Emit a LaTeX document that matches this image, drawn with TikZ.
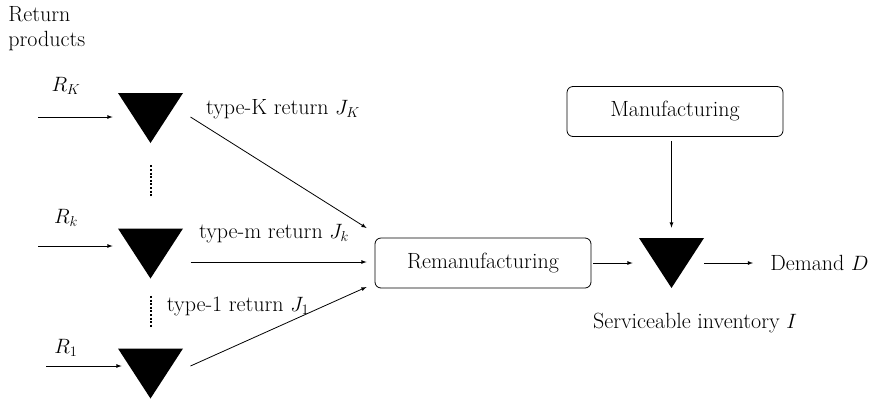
\documentclass[tikz,border=0pt]{standalone}
\usepackage{amsmath}
\usepackage{amssymb}
\usepackage{tikz}
\usetikzlibrary{arrows,positioning}

\begin{document}
\begin{tikzpicture}[x=1pt,y=-1pt,>=latex,line width=0.8pt,
    every node/.style={font=\fontsize{22}{25}\selectfont},
    stock/.style={rectangle, inner sep=0pt, minimum width=65pt, minimum height=50pt,
      path picture={\fill (path picture bounding box.north west)
        -- (path picture bounding box.north east)
        -- (path picture bounding box.south) -- cycle;}},
    process/.style={draw, rounded corners=6pt, minimum width=216pt, minimum height=50pt},
    dotline/.style={line width=2pt, dash pattern=on 2pt off 1.6pt}]
  \useasboundingbox (0,0) rectangle (870,400);
  \node[align=left, anchor=north west, inner sep=0pt] (ret) at (8,6) {Return\\products};
  \node[stock] (tK) at (150.5,118) {};
  \node[stock] (tk) at (150.5,253.5) {};
  \node[stock] (t1) at (150.5,373.5) {};
  \node[process] (reman) at (483,263) {Remanufacturing};
  \node[process] (manuf) at (675,111.5) {Manufacturing};
  \node[stock] (tI) at (671.5,263) {};
  \node[anchor=west, inner sep=0pt] (dem) at (770,263) {Demand $D$};
  \node (inv) at (695,323) {Serviceable inventory $I$};
  \node (lRK) at (66,86) {$R_K$};
  \node (lRk) at (66,218) {$R_k$};
  \node (lR1) at (66,348) {$R_1$};
  \node (lJK) at (283,109) {type-K return $J_K$};
  \node (lJk) at (274,234) {type-m return $J_k$};
  \node (lJ1) at (238,306) {type-1 return $J_1$};
  \coordinate (inK) at (38,117);
  \coordinate (ink) at (38,246);
  \coordinate (in1) at (46,366);
  % returns into the stocks
  \draw[->] (inK) -- ([xshift=-5pt,yshift=1pt]tK.west);
  \draw[->] (ink) -- ([xshift=-5pt,yshift=7.5pt]tk.west);
  \draw[->] (in1) -- ([xshift=4pt,yshift=7.5pt]t1.west);
  \draw[dotline, shorten <=22pt, shorten >=32pt] (tK.south) -- (tk.north);
  \draw[dotline, shorten <=17pt, shorten >=21pt] (tk.south) -- (t1.north);
  % stocks into remanufacturing
  \draw[->] ([xshift=40pt,yshift=1pt]tK.center) -- ([xshift=-8pt,yshift=35pt]reman.west);
  \draw[->] ([xshift=40pt,yshift=-8.5pt]tk.center) -- ([xshift=-8pt,yshift=1pt]reman.west);
  \draw[->] ([xshift=40pt,yshift=7.5pt]t1.center) -- ([xshift=-8pt,yshift=-24pt]reman.west);
  \draw[->] ([xshift=2pt]reman.east) -- ([xshift=-6pt]tI.west);
  \draw[->, shorten <=4pt, shorten >=10pt] (tI.north |- manuf.south) -- (tI.north);
  \draw[->] (tI.east) -- ([xshift=-17pt]dem.west);
\end{tikzpicture}
\end{document}
